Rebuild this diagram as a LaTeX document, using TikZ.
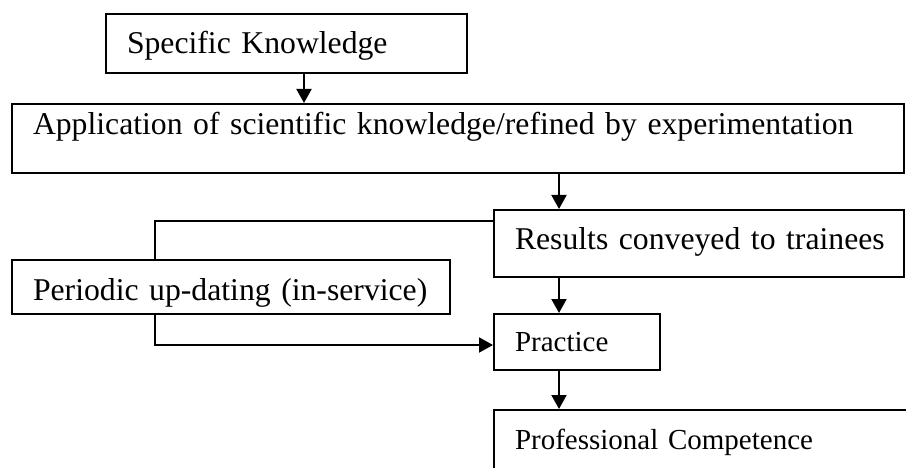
\documentclass[tikz,border=0pt]{standalone}
\usepackage{fontspec}
\setmainfont{Liberation Serif}
\usepackage{tikz}
\usetikzlibrary{arrows.meta}
\newcommand{\bigtxt}{\fontsize{31.7}{38}\selectfont}
\newcommand{\smalltxt}{\fontsize{29}{35}\selectfont}
\tikzset{
  box/.style={draw, rectangle, line width=2pt, anchor=north west, inner xsep=21pt, inner ysep=0pt, align=left, font=\bigtxt},
  arr/.style={-{Triangle[width=15pt,length=14pt]}, line width=2pt}
}

\begin{document}
\begin{tikzpicture}[x=1pt,y=-1pt]
\useasboundingbox (0,0) rectangle (906,468);
\clip (0,0) rectangle (906,468);
\coordinate (mid) at (559,0);
\coordinate (fb) at (155,0);
\node [box, text width=319pt, text height=40pt, text depth=19pt] (spec) at (105,13) {Specific Knowledge};
\node [box, text width=850pt, text height=31pt, text depth=38pt] (app) at (11,103) {\mbox{Application of scientific knowledge/refined by experimentation}};
\node [box, text width=368pt, text height=40pt, text depth=27pt] (results) at (493,209) {\mbox{Results conveyed to trainees}};
\node [box, text width=396pt, text height=40pt, text depth=14pt] (periodic) at (11,259) {\mbox{Periodic up-dating (in-service)}};
\node [box, font=\smalltxt, text width=124pt, text height=37pt, text depth=19pt] (practice) at (493,313) {Practice};
\node [box, font=\smalltxt, text width=395pt, text height=39pt, text depth=30pt] (prof) at (493,409) {\mbox{Professional Competence}};
\draw [arr] ([xshift=17.5pt]spec.south) -- ([xshift=17.5pt]spec.south |- app.north);
\draw [arr] (app.south -| mid) -- (results.north -| mid);
\draw [arr] (results.south -| mid) -- (practice.north -| mid);
\draw [arr] (practice.south -| mid) -- (prof.north -| mid);
\draw [line width=2pt] ([yshift=-12pt]results.north west) -| (periodic.north -| fb);
\draw [arr] (periodic.south -| fb) |- ([yshift=-3pt]practice.west);
\end{tikzpicture}
\end{document}
